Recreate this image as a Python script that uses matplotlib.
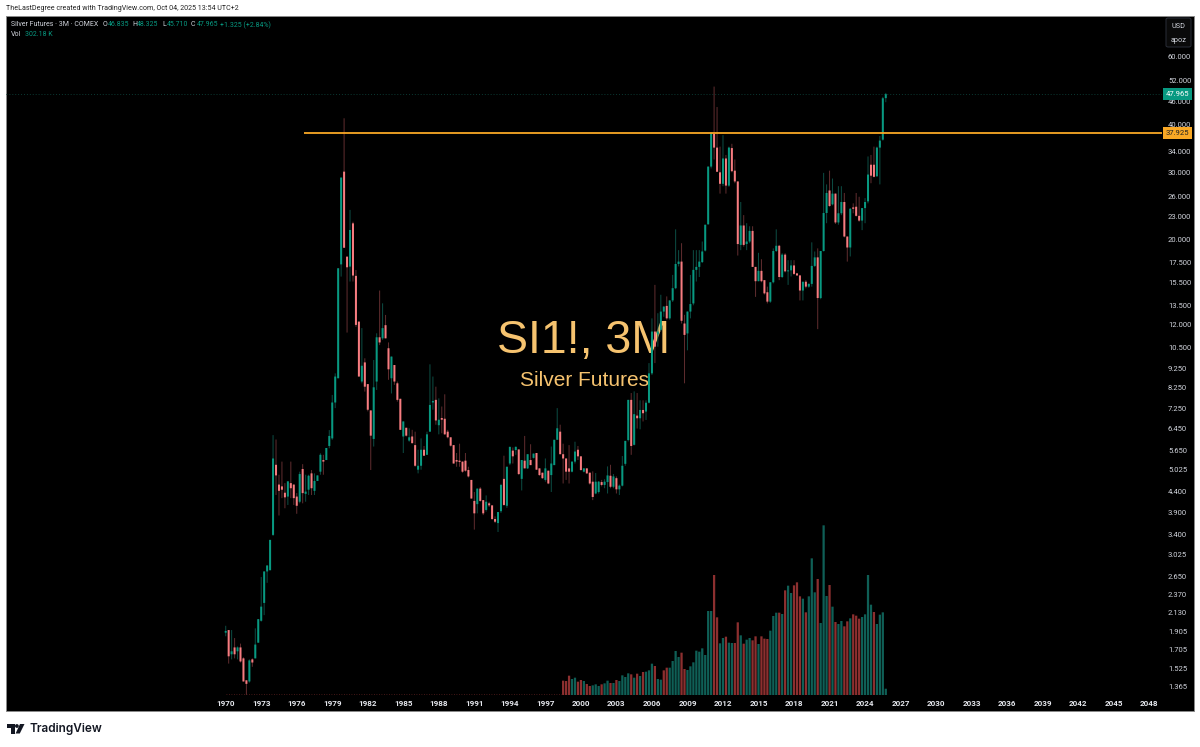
"""
Silver futures, 3M candles with volume, in the TradingView dark look.
"""

import matplotlib
matplotlib.use("Agg")
import matplotlib.pyplot as plt
from matplotlib.patches import Circle, FancyBboxPatch, Polygon, Rectangle

W, H = 1200, 747

# ── data ──────────────────────────────────────────────────────────────────────

opens = [
    1.89, 1.92, 1.66, 1.73, 1.69, 1.73, 1.62, 1.42, 1.41, 1.61,
    1.62, 1.78, 2.03, 2.26, 2.73, 2.75, 3.40, 5.18, 4.60, 4.55,
    4.38, 4.28, 4.64, 4.60, 4.28, 4.15, 5.05, 4.35, 4.46, 4.92,
    4.43, 4.70, 4.97, 5.33, 5.33, 5.80, 6.07, 7.53, 8.71, 17.26,
    30.12, 18.08, 17.03, 22.08, 16.11, 12.24, 8.54, 9.58, 8.41, 7.18,
    6.05, 8.54, 11.14, 11.07, 11.98, 10.43, 8.71, 9.43, 8.45, 7.70,
    6.14, 6.47, 5.99, 6.14, 5.83, 5.03, 5.15, 5.67, 5.50, 6.32,
    7.53, 7.65, 6.57, 6.86, 6.83, 6.32, 6.11, 5.83, 5.33, 5.31,
    5.28, 5.31, 5.02, 4.73, 4.17, 4.09, 4.49, 4.19, 3.95, 4.11,
    4.06, 3.74, 3.65, 3.92, 4.76, 4.05, 5.22, 5.64, 5.66, 5.68,
    4.76, 5.31, 5.07, 5.33, 5.40, 5.56, 5.07, 4.94, 4.73, 5.00,
    4.87, 5.17, 6.02, 6.32, 5.52, 5.38, 5.07, 4.97, 5.28, 5.67,
    5.45, 4.97, 5.07, 4.94, 4.68, 4.36, 4.40, 4.67, 4.59, 4.67,
    4.85, 4.54, 4.78, 4.47, 4.57, 5.21, 6.01, 7.65, 5.84, 6.96,
    6.85, 7.20, 7.13, 7.52, 8.97, 11.53, 11.33, 11.65, 13.0, 13.45,
    12.48, 13.9, 14.96, 17.3, 17.55, 12.1, 11.4, 13.0, 13.65, 16.7,
    17.0, 17.5, 18.75, 21.96, 31.05, 37.8, 34.8, 30.0, 28.0, 32.6,
    27.7, 34.7, 30.3, 28.4, 19.4, 21.8, 19.5, 19.8, 21.1, 17.0,
    15.6, 16.6, 15.7, 14.6, 13.8, 15.5, 18.7, 19.3, 16.0, 18.3,
    16.55, 16.65, 17.15, 16.35, 16.15, 14.75, 15.55, 15.1, 15.35, 17.1,
    18.0, 14.1, 18.7, 23.5, 26.9, 24.75, 26.4, 22.2, 23.46, 25.1,
    20.4, 19.1, 24.3, 24.4, 23.1, 22.45, 24.2, 25.2, 31.4, 31.4,
    29.3, 34.8, 36.5, 46.835,
]
highs = [
    1.97, 1.92, 1.92, 1.83, 1.74, 1.77, 1.63, 1.42, 1.61, 1.62,
    1.94, 2.05, 2.64, 2.73, 2.83, 3.30, 6.19, 6.03, 4.88, 5.28,
    4.64, 4.69, 5.28, 4.60, 4.37, 4.97, 5.20, 4.88, 4.88, 5.02,
    4.92, 4.86, 5.55, 5.50, 5.73, 6.38, 7.88, 8.97, 16.86, 29.07,
    41.5, 18.08, 23.94, 22.3, 16.69, 12.24, 11.77, 9.82, 8.41, 7.18,
    9.72, 11.41, 14.75, 13.66, 12.74, 10.80, 9.92, 9.43, 8.54, 7.70,
    6.72, 6.47, 6.45, 6.39, 6.32, 5.67, 6.07, 5.80, 6.32, 9.47,
    8.80, 8.28, 7.72, 7.35, 7.91, 6.39, 6.11, 5.83, 5.56, 5.88,
    5.28, 5.56, 5.12, 4.73, 4.40, 4.49, 4.53, 4.19, 4.31, 4.15,
    4.06, 3.80, 3.90, 4.62, 5.47, 5.12, 5.77, 5.75, 5.78, 5.68,
    5.33, 6.16, 5.52, 5.86, 5.54, 5.56, 5.07, 4.94, 5.38, 5.00,
    5.78, 6.02, 7.28, 6.59, 5.88, 5.38, 5.83, 5.28, 5.95, 5.80,
    5.45, 5.07, 5.07, 4.94, 4.98, 4.93, 4.70, 4.73, 4.75, 5.13,
    5.18, 4.90, 4.83, 4.60, 5.46, 5.98, 7.65, 7.97, 8.05, 7.97,
    7.63, 7.63, 7.63, 9.54, 12.48, 15.26, 12.87, 14.38, 13.4, 14.24,
    13.9, 16.2, 21.3, 18.8, 19.6, 12.75, 13.0, 16.2, 18.8, 18.8,
    18.8, 19.8, 21.9, 31.05, 38.2, 50.2, 44.4, 35.0, 37.5, 33.3,
    35.0, 35.6, 32.4, 28.4, 25.1, 23.2, 22.1, 21.7, 21.7, 17.0,
    18.5, 17.8, 15.7, 15.1, 15.5, 19.0, 21.3, 19.4, 18.45, 18.45,
    17.7, 17.7, 17.7, 16.4, 16.2, 15.55, 15.7, 15.4, 19.7, 18.65,
    19.0, 18.7, 29.9, 27.9, 30.3, 28.9, 26.4, 27.6, 27.6, 26.5,
    20.4, 24.2, 24.9, 26.5, 25.9, 24.2, 25.7, 33.0, 33.3, 35.0,
    35.0, 37.3, 47.2, 48.325,
]
lows = [
    1.85, 1.57, 1.61, 1.62, 1.61, 1.58, 1.41, 1.30, 1.40, 1.54,
    1.62, 1.78, 2.02, 2.10, 2.55, 2.75, 3.38, 4.32, 3.82, 4.24,
    3.99, 4.07, 4.24, 4.07, 3.86, 4.11, 4.11, 4.15, 4.32, 4.32,
    4.32, 4.70, 4.88, 4.88, 5.33, 5.72, 6.02, 7.28, 8.71, 16.04,
    19.07, 11.46, 15.57, 15.57, 11.86, 8.80, 8.45, 8.04, 7.14, 5.02,
    5.78, 8.12, 10.63, 10.97, 11.07, 8.63, 7.95, 8.37, 7.57, 6.39,
    5.56, 6.14, 5.95, 5.88, 5.12, 4.92, 5.03, 5.47, 5.50, 6.32,
    7.21, 6.59, 6.22, 6.26, 6.20, 6.07, 5.78, 5.22, 5.12, 5.12,
    4.94, 4.97, 4.80, 4.23, 3.51, 3.87, 4.15, 3.83, 3.91, 4.02,
    3.72, 3.65, 3.46, 3.88, 4.05, 4.00, 5.17, 5.22, 5.50, 4.87,
    4.44, 5.07, 5.05, 5.17, 5.38, 5.03, 4.85, 4.76, 4.68, 4.61,
    4.40, 5.17, 6.02, 5.52, 4.63, 4.73, 4.63, 4.95, 5.22, 5.33,
    5.00, 4.95, 4.90, 4.60, 4.19, 4.34, 4.36, 4.55, 4.50, 4.36,
    4.50, 4.50, 4.36, 4.32, 4.55, 5.15, 5.96, 5.50, 5.82, 6.44,
    6.41, 6.72, 6.78, 7.49, 8.88, 9.54, 10.53, 11.55, 12.6, 12.38,
    12.38, 13.77, 14.87, 17.05, 12.1, 8.45, 10.3, 12.48, 13.5, 15.57,
    16.0, 17.4, 18.65, 21.9, 30.7, 32.4, 30.1, 26.4, 27.6, 26.4,
    27.5, 30.0, 28.1, 18.2, 18.8, 19.2, 18.8, 19.6, 17.0, 14.2,
    15.6, 15.5, 14.4, 13.65, 13.7, 15.4, 18.6, 15.7, 15.9, 16.45,
    15.26, 16.05, 16.2, 16.1, 13.9, 13.9, 14.95, 15.0, 15.1, 17.0,
    11.7, 14.0, 18.65, 22.1, 24.4, 24.6, 22.0, 21.9, 23.2, 20.3,
    17.55, 18.1, 23.46, 23.0, 22.3, 21.2, 22.1, 24.9, 28.1, 29.1,
    29.2, 27.9, 36.3, 45.71,
]
closes = [
    1.91, 1.64, 1.69, 1.66, 1.73, 1.59, 1.41, 1.39, 1.60, 1.58,
    1.76, 2.05, 2.21, 2.73, 2.83, 3.30, 5.38, 4.86, 4.43, 4.46,
    4.26, 4.69, 4.50, 4.24, 4.05, 4.90, 4.37, 4.41, 4.85, 4.50,
    4.70, 4.86, 5.50, 5.28, 5.73, 6.16, 7.53, 8.80, 16.86, 29.07,
    19.07, 16.96, 21.22, 16.14, 12.0, 8.80, 9.39, 8.28, 7.21, 6.17,
    8.25, 11.14, 10.80, 11.77, 11.07, 9.19, 9.92, 8.54, 7.65, 6.39,
    6.72, 6.17, 6.11, 5.90, 5.15, 5.15, 5.67, 5.47, 6.22, 7.42,
    7.60, 6.76, 6.79, 6.79, 6.22, 6.11, 5.81, 5.22, 5.28, 5.27,
    4.97, 5.00, 4.83, 4.23, 3.87, 4.49, 4.17, 3.87, 4.15, 4.06,
    3.74, 3.68, 3.90, 4.59, 4.07, 5.12, 5.77, 5.45, 5.77, 4.90,
    5.33, 5.07, 5.52, 5.17, 5.54, 5.03, 4.87, 4.78, 5.07, 4.63,
    5.22, 6.02, 6.45, 5.52, 5.38, 4.97, 4.97, 5.28, 5.61, 5.45,
    5.02, 5.07, 4.92, 4.63, 4.27, 4.68, 4.68, 4.59, 4.68, 4.86,
    4.54, 4.83, 4.47, 4.57, 5.15, 5.98, 7.65, 5.80, 7.02, 6.85,
    7.20, 7.06, 7.52, 8.97, 11.53, 10.53, 11.53, 13.0, 13.4, 12.48,
    13.9, 14.96, 17.3, 17.55, 12.3, 11.3, 13.0, 13.6, 16.7, 17.0,
    17.55, 18.65, 21.9, 31.05, 38.0, 34.8, 30.1, 28.0, 32.6, 27.7,
    34.8, 30.2, 28.4, 19.5, 21.8, 19.4, 19.8, 21.1, 17.0, 15.6,
    16.6, 15.6, 14.5, 13.8, 15.5, 18.7, 19.3, 16.0, 18.3, 16.55,
    16.65, 17.15, 16.3, 16.15, 14.75, 15.55, 15.1, 15.35, 17.1, 18.0,
    14.1, 18.7, 23.5, 26.5, 24.5, 26.4, 22.2, 23.46, 25.1, 20.4,
    19.1, 24.1, 24.1, 23.1, 22.45, 24.2, 25.1, 29.6, 29.4, 29.2,
    34.8, 36.3, 46.8, 47.965,
]

# volume in thousands, last bars only (older history is empty)
volumes = [
    688, 672, 928, 768, 832, 640, 720, 672, 528, 432,
    464, 512, 432, 512, 560, 688, 576, 576, 720, 672,
    944, 864, 1040, 992, 832, 1024, 912, 1104, 1120, 1184,
    1504, 1392, 768, 736, 1184, 1312, 1312, 1632, 2112, 1824,
    2032, 1248, 1200, 1376, 1568, 2128, 2080, 2240, 1920, 4032,
    4032, 5760, 3728, 2480, 2736, 2800, 2512, 2496, 2496, 3488,
    2864, 2464, 2656, 2736, 2624, 2816, 2448, 2816, 2704, 2688,
    3088, 3792, 3952, 3952, 3888, 5024, 5248, 4896, 5264, 5408,
    4736, 4624, 3968, 4736, 6560, 4928, 5568, 3456, 8144, 4752,
    5280, 4240, 3504, 3408, 3552, 3296, 3536, 3680, 3872, 3808,
    3664, 3744, 3872, 5760, 4336, 3984, 3408, 3856, 3968, 302,
]
volume_dirs = (
    "RRRGGRRGRRGGGRGGRGRG" "GGGRGRGRGGGRGGRRGGGG" "RRGGGGGGGGGRRGGRGGRR"
    "GRGGRRGRRRGGGRGRGGRR" "RGRGGGRGGGRGRGGRRGRR" "RGGGGRGGGG"
)

price_ticks = [
    60.0, 52.0, 46.0, 40.0, 34.0, 30.0, 26.0, 23.0, 20.0, 17.5, 15.5, 13.5,
    12.0, 10.5, 9.25, 8.25, 7.25, 6.45, 5.65, 5.025, 4.4, 3.9, 3.4, 3.025,
    2.65, 2.37, 2.13, 1.905, 1.705, 1.525, 1.365,
]
year_ticks = list(range(1970, 2049, 3))
BARS_PER_YEAR = 4
FIRST_YEAR = 1970

level_price = 37.925
last_price = 47.965

UP = "#089981"
DOWN = "#f77c80"
UP_WICK = "#0c4a41"
DOWN_WICK = "#5c2b2d"
UP_VOL = "#0f5f56"
DOWN_VOL = "#8c2f2f"
ORANGE = "#f9a825"
WATERMARK = "#f6c36f"
TEXT = "#d1d4dc"


# ── helpers ───────────────────────────────────────────────────────────────────

def fx(px):
    return px / W


def fy(py):
    return 1 - py / H


def header(x, y, s, color=TEXT, size=5.0):
    fig.text(fx(x), fy(y), s, color=color, fontsize=size, family="Roboto",
             ha="left", va="center", zorder=10)


# ── figure ────────────────────────────────────────────────────────────────────

fig = plt.figure(figsize=(W / 100, H / 100), dpi=100, facecolor="white")

fig.add_artist(Rectangle((fx(6), fy(711)), fx(1188), 695 / H, transform=fig.transFigure,
                         facecolor="black", edgecolor="#8a8a8a", linewidth=0.7, zorder=-5))

plot_rect = [fx(6), fy(695), fx(1156), 679 / H]
ax = fig.add_axes(plot_rect, facecolor="none")
ax_vol = fig.add_axes(plot_rect, facecolor="none", sharex=ax)

# one bar is 2.96 px wide, the 1970 bar sits at x = 225.7 px
ax.set_xlim((6 - 225.7) / 2.96, (1162 - 225.7) / 2.96)
ax.set_yscale("log")
ax.set_ylim(1.30, 76.7)

for side in ax.spines:
    ax.spines[side].set_visible(False)
ax_vol.axis("off")
ax_vol.set_ylim(0, 32592)

# ── candles ───────────────────────────────────────────────────────────────────

idx = range(len(closes))
up = [c >= o for o, c in zip(opens, closes)]
wick_colors = [UP_WICK if u else DOWN_WICK for u in up]
body_colors = [UP if u else DOWN for u in up]

wicks = ax.vlines(idx, lows, highs, colors=wick_colors, linewidth=0.75, zorder=3)
bodies = ax.vlines(idx, [min(o, c) for o, c in zip(opens, closes)],
                   [max(o, c) for o, c in zip(opens, closes)],
                   colors=body_colors, linewidth=1.45, zorder=4)
# no pixel snapping, otherwise the 2.96 px pitch makes uneven bars
wicks.set_snap(False)
bodies.set_snap(False)

# ── volume ────────────────────────────────────────────────────────────────────

vol_start = len(closes) - len(volumes)
vol_idx = range(vol_start, len(closes))
vol_bars = ax_vol.bar(vol_idx, volumes, width=0.76,
                      color=[UP_VOL if d == "G" else DOWN_VOL for d in volume_dirs], linewidth=0)
for b in vol_bars:
    b.set_snap(False)
ax_vol.hlines(60, 0, vol_start, colors="#5a1f1f", linestyle=(0, (1, 2)), linewidth=0.6)

# ── levels and labels ─────────────────────────────────────────────────────────

ax.axhline(last_price, color="#0b3a33", linestyle=(0, (1, 2)), linewidth=0.7, zorder=1)
ax.hlines(level_price, 26.5, ax.get_xlim()[1], color=ORANGE, linewidth=1.3, zorder=6)

ax.yaxis.tick_right()
ax.set_yticks(price_ticks)
ax.set_yticklabels([f"{p:.3f}" for p in price_ticks])
ax.minorticks_off()
ax.tick_params(axis="y", which="both", length=0, pad=4.3, labelsize=5.5, labelcolor=TEXT)
for lbl in ax.get_yticklabels():
    lbl.set_family("Roboto")

ax.set_xticks([(y - FIRST_YEAR) * BARS_PER_YEAR for y in year_ticks])
ax.set_xticklabels([str(y) for y in year_ticks])
ax.tick_params(axis="x", length=0, pad=3.5, labelsize=5.8, labelcolor="#e6e8ee")
for lbl in ax.get_xticklabels():
    lbl.set_family("Roboto")
    lbl.set_fontweight("bold")

trans = ax.get_yaxis_transform()
for price, face, ink in ((last_price, UP, "white"), (level_price, ORANGE, "#222222")):
    ax.text(1.0134, price, f"{price:.3f}", transform=trans, color=ink, fontsize=5.5,
            family="Roboto", ha="center", va="center", zorder=8, clip_on=False,
            bbox=dict(boxstyle="square,pad=0.42", facecolor=face, edgecolor="none"))

# watermark goes behind the candles
ax.text(fx(584), fy(341), "SI1!, 3M", transform=fig.transFigure, color=WATERMARK,
        fontsize=33.5, family="Liberation Sans", ha="center", va="center", zorder=1)
ax.text(fx(585), fy(380), "Silver Futures", transform=fig.transFigure, color=WATERMARK,
        fontsize=15, family="Liberation Sans", ha="center", va="center", zorder=1)

# ── header and footer ─────────────────────────────────────────────────────────

header(6, 9, "TheLastDegree created with TradingView.com, Oct 04, 2025 13:54 UTC+2",
       color="#222222", size=5.1)
header(11, 25, "Silver Futures · 3M · COMEX")
for x, s in ((103, "O"), (132, "H"), (162, "L"), (191, "C")):
    header(x, 25, s)
for x, s in ((108, "46.835"), (137, "48.325"), (167, "45.710"), (197, "47.965"),
             (220, "+1.325 (+2.84%)")):
    header(x, 25, s, color=UP)
header(11, 35, "Vol")
header(25, 35, "302.18 K", color=UP)

fig.add_artist(FancyBboxPatch((fx(1166), fy(47)), fx(25), 29 / H, transform=fig.transFigure,
                              boxstyle="round,pad=0,rounding_size=0.002",
                              facecolor="#0a0a0a", edgecolor="#2a2e39", linewidth=0.7))
fig.text(fx(1178.5), fy(26), "USD", color=TEXT, fontsize=5.2, family="Roboto",
         ha="center", va="center")
fig.text(fx(1178.5), fy(40), "apoz", color=TEXT, fontsize=5.2, family="Roboto",
         ha="center", va="center")

# TradingView mark
for pts in (
    [(7, 724), (14.5, 724), (14.5, 733.5), (10.7, 733.5), (10.7, 728), (7, 728)],
    [(20, 724), (24.5, 724), (19.8, 733.5), (15.6, 733.5)],
):
    fig.add_artist(Polygon([(fx(x), fy(y)) for x, y in pts], closed=True,
                           transform=fig.transFigure, facecolor="#131722", edgecolor="none"))
logo_dot = Circle((16.9, H - 726), 1.9, transform=None, facecolor="#131722", edgecolor="none")
fig.add_artist(logo_dot)
fig.text(fx(29), fy(729), "TradingView", color="#131722", fontsize=8.5, family="Inter",
         fontweight="semibold", ha="left", va="center")

fig.savefig("out.png", dpi=100, facecolor="white")
